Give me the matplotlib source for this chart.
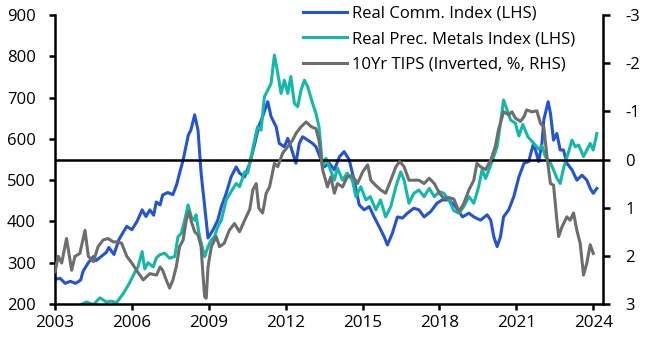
import matplotlib
matplotlib.use("Agg")
import matplotlib.pyplot as plt
import numpy as np

plt.rcParams['font.family'] = ['Open Sans', 'DejaVu Sans']
plt.rcParams['axes.unicode_minus'] = False

# Real Commodity Index (LHS)
comm_x = [2003.0, 2003.2, 2003.4, 2003.6, 2003.8, 2004.0, 2004.1, 2004.3, 2004.5, 2004.6, 2004.8,
          2005.0, 2005.1, 2005.3, 2005.5, 2005.8, 2006.0, 2006.2, 2006.4, 2006.55, 2006.7, 2006.85,
          2006.95, 2007.1, 2007.2, 2007.4, 2007.6, 2007.75, 2007.86, 2008.0, 2008.2, 2008.3, 2008.45,
          2008.58, 2008.7, 2008.84, 2008.97, 2009.16, 2009.35, 2009.49, 2009.68, 2009.87, 2010.07,
          2010.2, 2010.4, 2010.6, 2010.8, 2010.95, 2011.1, 2011.3, 2011.43, 2011.63, 2011.75, 2011.95,
          2012.08, 2012.2, 2012.4, 2012.53, 2012.66, 2012.86, 2013.05, 2013.18, 2013.38, 2013.5,
          2013.7, 2013.9, 2014.1, 2014.28, 2014.48, 2014.67, 2014.87, 2015.06, 2015.26, 2015.45,
          2015.65, 2015.84, 2015.97, 2016.16, 2016.36, 2016.55, 2016.75, 2017.0, 2017.2, 2017.4,
          2017.66, 2017.9, 2018.1, 2018.37, 2018.63, 2018.9, 2019.15, 2019.34, 2019.6, 2019.86,
          2020.0, 2020.12, 2020.25, 2020.38, 2020.5, 2020.7, 2020.9, 2021.1, 2021.3, 2021.48, 2021.67,
          2021.87, 2022.0, 2022.07, 2022.24, 2022.33, 2022.45, 2022.58, 2022.71, 2022.84, 2022.97,
          2023.17, 2023.36, 2023.56, 2023.75, 2023.88, 2024.0, 2024.14]
comm_v = [260, 262, 250, 255, 250, 258, 280, 300, 315, 305, 315,
          325, 337, 320, 357, 388, 380, 400, 428, 412, 428, 415,
          447, 440, 464, 470, 465, 490, 517, 549, 609, 621, 658,
          621, 517, 436, 360, 379, 403, 436, 468, 508, 532,
          517, 508, 541, 590, 630, 654, 690, 654, 629, 589, 581,
          601, 581, 541, 589, 605, 597, 589, 581, 549, 532,
          541, 525, 557, 569, 549, 500, 440, 428, 436, 411,
          387, 363, 343, 371, 411, 408, 420, 432, 428, 411,
          424, 444, 452, 452, 436, 411, 420, 411, 403, 416,
          403, 363, 339, 363, 411, 428, 460, 508, 541, 545, 589,
          545, 590, 646, 690, 662, 597, 613, 573, 573, 541,
          525, 500, 512, 500, 480, 468, 480]

# Real Precious Metals Index (LHS)
prec_x = [2003.9, 2004.23, 2004.5, 2004.75, 2005.0, 2005.2, 2005.4, 2005.66, 2005.9, 2006.1, 2006.24,
          2006.4, 2006.5, 2006.63, 2006.83, 2006.95, 2007.08, 2007.28, 2007.47, 2007.67, 2007.8,
          2007.93, 2008.06, 2008.19, 2008.32, 2008.45, 2008.5, 2008.64, 2008.84, 2008.97, 2009.1,
          2009.22, 2009.35, 2009.49, 2009.68, 2009.87, 2010.07, 2010.2, 2010.4, 2010.52, 2010.65,
          2010.8, 2010.9, 2011.04, 2011.17, 2011.3, 2011.43, 2011.56, 2011.69, 2011.82, 2011.95,
          2012.08, 2012.2, 2012.34, 2012.47, 2012.6, 2012.73, 2012.86, 2013.05, 2013.18, 2013.3,
          2013.44, 2013.57, 2013.7, 2013.9, 2014.02, 2014.22, 2014.4, 2014.6, 2014.74, 2014.93,
          2015.13, 2015.3, 2015.52, 2015.7, 2015.9, 2016.1, 2016.3, 2016.49, 2016.62, 2016.81,
          2017.0, 2017.2, 2017.4, 2017.6, 2017.8, 2018.0, 2018.17, 2018.37, 2018.56, 2018.76,
          2018.95, 2019.15, 2019.34, 2019.53, 2019.66, 2019.8, 2019.93, 2020.12, 2020.25, 2020.38,
          2020.5, 2020.64, 2020.77, 2020.96, 2021.1, 2021.25, 2021.45, 2021.67, 2021.87, 2022.0,
          2022.13, 2022.3, 2022.45, 2022.58, 2022.71, 2022.84, 2023.04, 2023.17, 2023.3, 2023.43,
          2023.62, 2023.75, 2023.88, 2024.0, 2024.14]
prec_v = [195, 205, 198, 215, 205, 207, 203, 225, 250, 275, 290,
          327, 285, 300, 290, 311, 319, 323, 311, 315, 363,
          371, 403, 440, 411, 403, 416, 363, 315, 339, 355,
          363, 387, 403, 452, 472, 492, 484, 520, 517, 557,
          600, 629, 621, 702, 718, 734, 803, 759, 710, 742,
          710, 751, 686, 678, 718, 742, 726, 686, 662, 629,
          532, 553, 532, 500, 529, 500, 517, 500, 460, 484,
          452, 460, 428, 452, 411, 436, 484, 520, 500, 444,
          468, 476, 460, 480, 460, 472, 468, 452, 426, 420,
          436, 460, 444, 484, 525, 504, 525, 557, 581, 638,
          694, 670, 646, 638, 607, 635, 605, 590, 575, 583,
          557, 545, 525, 505, 492, 529, 569, 597, 581, 585,
          557, 573, 589, 573, 613]

# 10Yr TIPS yield (%, RHS, inverted)
tips_x = [2003.0, 2003.13, 2003.26, 2003.45, 2003.65, 2003.78, 2003.97, 2004.17, 2004.3, 2004.5,
          2004.68, 2004.88, 2005.07, 2005.27, 2005.46, 2005.6, 2005.8, 2006.0, 2006.18, 2006.44,
          2006.7, 2006.96, 2007.1, 2007.2, 2007.34, 2007.47, 2007.6, 2007.73, 2007.86, 2008.0,
          2008.12, 2008.23, 2008.32, 2008.45, 2008.58, 2008.7, 2008.77, 2008.84, 2008.9, 2008.97,
          2009.1, 2009.29, 2009.42, 2009.6, 2009.8, 2010.0, 2010.2, 2010.4, 2010.6, 2010.72,
          2010.85, 2010.95, 2011.1, 2011.24, 2011.37, 2011.56, 2011.69, 2011.88, 2012.08, 2012.27,
          2012.4, 2012.6, 2012.8, 2013.0, 2013.18, 2013.3, 2013.44, 2013.63, 2013.76, 2013.9,
          2014.02, 2014.22, 2014.4, 2014.6, 2014.8, 2015.0, 2015.2, 2015.32, 2015.5, 2015.7,
          2015.9, 2016.1, 2016.3, 2016.45, 2016.62, 2016.81, 2017.0, 2017.2, 2017.4, 2017.6,
          2017.8, 2018.0, 2018.17, 2018.37, 2018.56, 2018.76, 2018.95, 2019.15, 2019.34, 2019.46,
          2019.6, 2019.8, 2020.0, 2020.18, 2020.3, 2020.5, 2020.7, 2020.83, 2020.96, 2021.16,
          2021.3, 2021.4, 2021.6, 2021.8, 2021.94, 2022.07, 2022.2, 2022.33, 2022.45, 2022.58,
          2022.65, 2022.78, 2022.97, 2023.1, 2023.23, 2023.36, 2023.49, 2023.62, 2023.75, 2023.88,
          2024.0]
tips_v = [2.33, 2.01, 2.15, 1.64, 2.30, 2.01, 1.95, 1.47, 2.01, 2.12,
          1.81, 1.67, 1.64, 1.71, 1.71, 1.74, 2.01, 2.15, 2.30, 2.50,
          2.37, 2.40, 2.23, 2.30, 2.50, 2.67, 2.50, 2.23, 1.81, 1.67,
          1.26, 1.08, 1.29, 1.50, 1.57, 1.81, 2.37, 2.85, 2.88, 2.23,
          1.81, 1.60, 1.81, 1.74, 1.47, 1.33, 1.50, 1.26, 1.03, 0.63,
          0.50, 1.01, 1.11, 0.70, 0.57, 0.08, 0.15, -0.13, -0.27, -0.40,
          -0.54, -0.68, -0.78, -0.68, -0.64, -0.40, 0.21, 0.57, 0.36, 0.70,
          0.50, 0.57, 0.36, 0.33, 0.50, 0.26, 0.11, 0.43, 0.53, 0.63,
          0.70, 0.43, 0.15, 0.04, 0.15, 0.43, 0.43, 0.43, 0.50, 0.39,
          0.50, 0.70, 0.81, 0.79, 0.82, 1.08, 0.91, 0.63, 0.43, 0.08,
          0.15, 0.21, 0.01, -0.27, -0.61, -0.99, -0.93, -0.99, -0.86, -0.79,
          -0.89, -1.03, -0.99, -1.01, -0.75, -0.68, -0.03, 0.50, 0.53, 1.26,
          1.60, 1.40, 1.19, 1.26, 1.11, 1.47, 1.74, 2.40, 2.15, 1.77,
          1.95]

labels = ["Real Comm. Index (LHS)", "Real Prec. Metals Index (LHS)", "10Yr TIPS (Inverted, %, RHS)"]
colors = ["#2454d3", "#14b8a6", "#6d6d6d"]
x_ticks = [2003, 2006, 2009, 2012, 2015, 2018, 2021, 2024]

fig = plt.figure(figsize=(6.51, 3.5), dpi=100)
ax = fig.add_axes([55/651, 1-304/350, 548/651, 289/350])
ax2 = ax.twinx()

l1, = ax.plot(comm_x, comm_v, color=colors[0], lw=2.2, label=labels[0])
l2, = ax.plot(prec_x, prec_v, color=colors[1], lw=2.2, label=labels[1])
l3, = ax2.plot(tips_x, tips_v, color=colors[2], lw=2.2, label=labels[2])
ax2.axhline(0, color='black', lw=1.8, zorder=0)

ax.set_xlim(2003, 2024.38)
ax.set_ylim(200, 900)
ax2.set_ylim(3, -3)
ax.set_yticks(range(200, 901, 100))
ax2.set_yticks([-3, -2, -1, 0, 1, 2, 3])
ax2.set_yticklabels(["-3", "-2", "-1", "0", "1", "2", "3"])
ax.set_xticks(x_ticks)
ax.set_xticklabels([str(t) for t in x_ticks])

for a in (ax, ax2):
    a.spines['top'].set_visible(False)
    for s in ('left', 'right', 'bottom'):
        a.spines[s].set_linewidth(1.8)
        a.spines[s].set_color('black')
ax.spines['right'].set_visible(False)
ax2.spines['left'].set_visible(False)
ax2.spines['bottom'].set_visible(False)

ax.tick_params(axis='y', direction='out', length=4, width=1.8, labelsize=12, colors='black', pad=10)
ax.tick_params(axis='x', direction='out', length=4, width=1.8, labelsize=12.3, colors='black', pad=4)
ax2.tick_params(axis='y', direction='out', length=5, width=1.8, labelsize=12, colors='black', pad=11)

leg = ax2.legend(handles=[l1, l2, l3], loc='upper left', bbox_to_anchor=(300/651, 0.994),
                 bbox_transform=fig.transFigure, frameon=False, fontsize=12,
                 handlelength=2.6, handletextpad=0.35, labelspacing=0.58, borderpad=0.2,
                 borderaxespad=0)

fig.savefig("out.png", dpi=100)
